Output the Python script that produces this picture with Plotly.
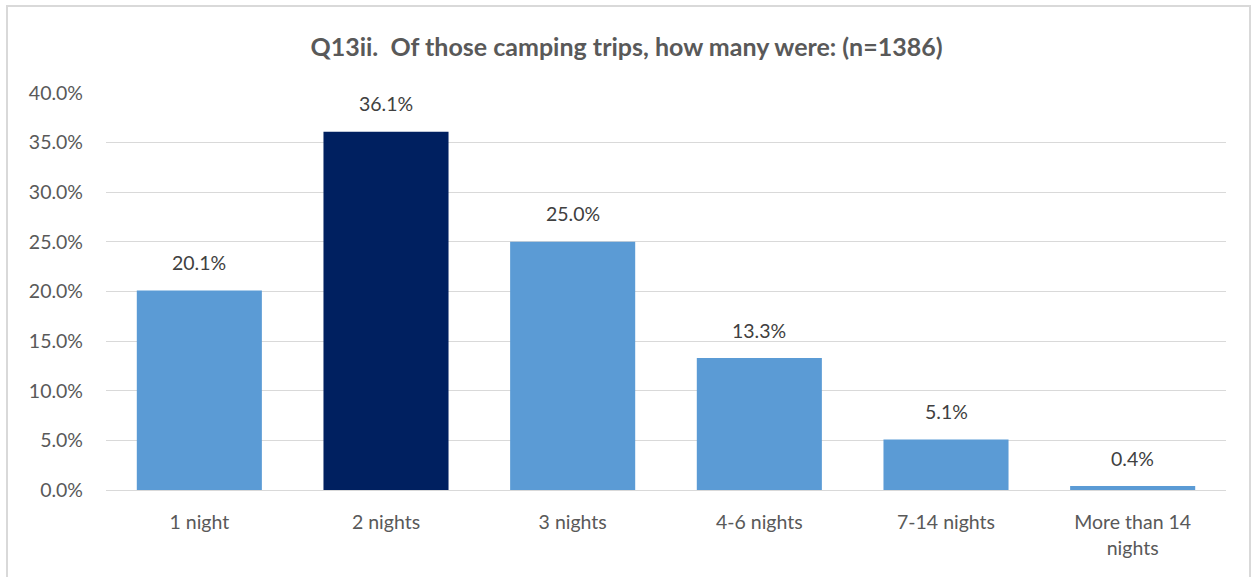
import plotly.graph_objects as go

categories = ["1 night", "2 nights", "3 nights", "4-6 nights", "7-14 nights", "More than 14<br>nights"]
values = [20.1, 36.1, 25.0, 13.3, 5.1, 0.4]
colors = ["#5B9BD5", "#002060", "#5B9BD5", "#5B9BD5", "#5B9BD5", "#5B9BD5"]
tick_vals = [0, 5, 10, 15, 20, 25, 30, 35, 40]
tick_text = [f"{v:.1f}%" for v in tick_vals]

W, H = 1253, 577
L, R, T, B = 106, 27, 93, 87
FONT = "Lato, Open Sans, sans-serif"

fig = go.Figure(go.Bar(
    x=categories, y=values,
    marker=dict(color=colors, line=dict(width=0)),
    hoverinfo="x+y",
))

for c, v in zip(categories, values):
    fig.add_annotation(x=c, y=v, text=f"{v:.1f}%", showarrow=False,
                       yanchor="middle", yshift=28,
                       font=dict(family=FONT, size=19.5, color="#404040"))

fig.update_layout(
    width=W, height=H,
    margin=dict(l=L, r=R, t=T, b=B),
    paper_bgcolor="white", plot_bgcolor="white",
    font=dict(family=FONT, size=19.5, color="#595959"),
    title=dict(text="<b>Q13ii.  Of those camping trips, how many were: (n=1386)</b>",
               x=0.5, xanchor="center", y=1 - 47 / H, yanchor="middle",
               font=dict(size=25, color="#595959")),
    bargap=0.33,
    showlegend=False,
    xaxis=dict(showgrid=False, showline=True, linecolor="#D9D9D9", linewidth=1,
               ticks="", ticklabelstandoff=15,
               tickfont=dict(size=19.5, color="#595959")),
    yaxis=dict(range=[0, 40], tickvals=tick_vals, ticktext=tick_text,
               showgrid=True, gridcolor="#D9D9D9", gridwidth=1, zeroline=False,
               showline=False, ticks="", ticklabelstandoff=22,
               tickfont=dict(size=19.5, color="#595959")),
)

pw = W - L - R
ph = H - T - B
def px_x(x): return (x - L) / pw
def px_y(y): return (H - B - y) / ph

fig.add_shape(type="path", xref="paper", yref="paper",
              path=f"M {px_x(7)} {px_y(600)} L {px_x(7)} {px_y(6)} L {px_x(1250)} {px_y(6)} L {px_x(1250)} {px_y(600)}",
              line=dict(color="#D9D9D9", width=2))

fig.write_html("out.html", config={"displayModeBar": False},
               post_script="document.body.style.margin='0';document.body.style.overflow='hidden';")
